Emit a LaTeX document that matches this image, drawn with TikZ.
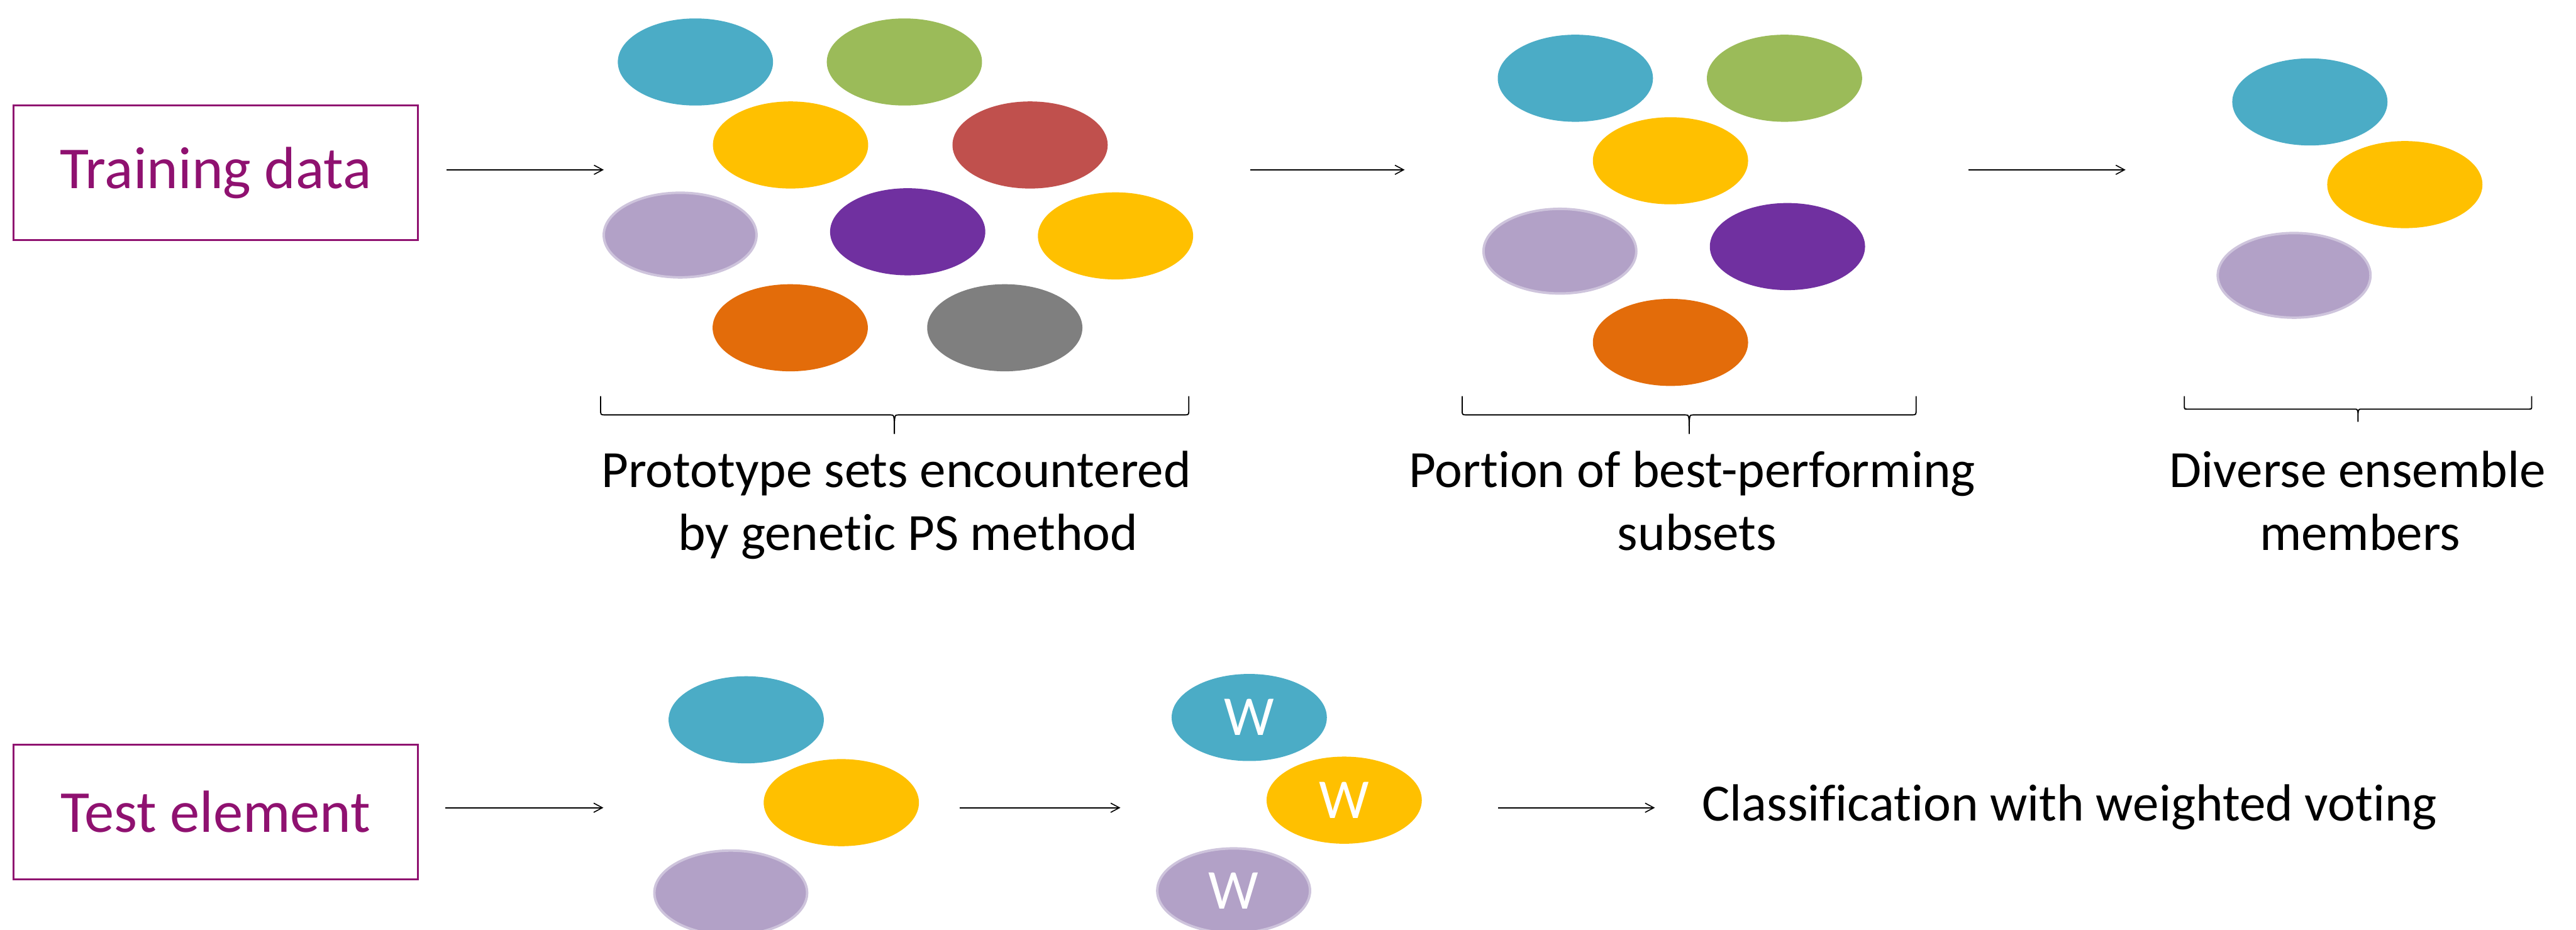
\documentclass[tikz,border=0pt]{standalone}
\usepackage{fontspec}
\setmainfont{Carlito}[Ligatures={NoCommon}]
\usetikzlibrary{shapes.geometric,arrows.meta}
\definecolor{plum}{RGB}{143,17,112}
\definecolor{blobcyan}{RGB}{75,172,198}
\definecolor{blobgreen}{RGB}{155,187,89}
\definecolor{blobyellow}{RGB}{255,192,0}
\definecolor{blobred}{RGB}{192,80,77}
\definecolor{bloblav}{RGB}{178,161,199}
\definecolor{lavring}{RGB}{206,196,220}
\definecolor{blobpurple}{RGB}{112,48,160}
\definecolor{bloborange}{RGB}{227,108,10}
\definecolor{blobgray}{RGB}{127,127,127}

\begin{document}
\begin{tikzpicture}[x=0.02cm,y=-0.02cm]
\tikzstyle{every node}+=[inner sep=0pt]
\tikzstyle{blob}=[ellipse,minimum width=1.89cm,minimum height=1.06cm]
\tikzstyle{lav}=[blob,fill=bloblav,draw=lavring,line width=0.85pt,minimum width=1.86cm,minimum height=1.03cm]
\tikzstyle{inbox}=[draw=plum,line width=0.75pt,text=plum,minimum width=4.926cm,minimum height=1.64cm,font=\fontsize{20.6}{25}\selectfont]
\tikzstyle{lbl}=[anchor=base,font=\fontsize{18.1}{22}\selectfont]
\tikzstyle{arr}=[line width=0.35pt,-{Straight Barb[length=3pt,width=3.2pt]}]
\tikzstyle{brc}=[line width=0.4pt]
\tikzstyle{wlbl}=[text=white,font=\fontsize{19.5}{23}\selectfont]
\useasboundingbox (0,0) rectangle (1568,565.7);

\node[inbox] (train) at (131.35,105) {Training data};
\node[inbox] (test) at (131.35,494) {Test element};

\node[blob,fill=blobcyan] (pc) at (423.3,37.7) {};
\node[blob,fill=blobgreen] (pg) at (550.5,37.7) {};
\node[blob,fill=blobyellow] (py) at (481.2,88.2) {};
\node[blob,fill=blobred] (pr) at (627,88.2) {};
\node[lav] (pl) at (414,143) {};
\node[blob,fill=blobpurple] (pp) at (552.5,141) {};
\node[blob,fill=blobyellow] (py2) at (679,143.5) {};
\node[blob,fill=bloborange] (po) at (481,199.4) {};
\node[blob,fill=blobgray] (pgr) at (611.6,199.4) {};

\node[blob,fill=blobcyan] (bc) at (958.9,47.6) {};
\node[blob,fill=blobgreen] (bg) at (1086.2,47.6) {};
\node[blob,fill=blobyellow] (by) at (1016.8,97.8) {};
\node[lav] (bl) at (949.5,152.8) {};
\node[blob,fill=blobpurple] (bp) at (1088,150) {};
\node[blob,fill=bloborange] (bo) at (1016.8,208.3) {};

\node[blob,fill=blobcyan] (dc) at (1406,62) {};
\node[blob,fill=blobyellow] (dy) at (1463.8,112.3) {};
\node[lav] (dl) at (1396.4,167.5) {};

\node[blob,fill=blobcyan] (tc) at (454.2,437.9) {};
\node[blob,fill=blobyellow] (ty) at (512.1,488.3) {};
\node[lav] (tl) at (444.8,543.2) {};

\node[blob,fill=blobcyan,wlbl] (wc) at (760.4,436.5) {W};
\node[blob,fill=blobyellow,wlbl] (wy) at (818.2,486.8) {W};
\node[lav,wlbl] (wl) at (750.9,541.9) {W};

\draw[brc] (365.6,241) -- (365.6,249.4) .. controls (365.6,252.4) .. (368.6,252.4) -- (542,252.4) .. controls (544.4,252.4) .. (544.4,264) .. controls (544.4,252.4) .. (546.8,252.4) -- (720.6,252.4) .. controls (723.6,252.4) .. (723.6,249.4) -- (723.6,241);
\draw[brc] (890,241) -- (890,249.4) .. controls (890,252.4) .. (893,252.4) -- (1025.8,252.4) .. controls (1028.2,252.4) .. (1028.2,264) .. controls (1028.2,252.4) .. (1030.6,252.4) -- (1163.3,252.4) .. controls (1166.3,252.4) .. (1166.3,249.4) -- (1166.3,241);
\draw[brc] (1329.6,241) -- (1329.6,246.9) .. controls (1329.6,248.9) .. (1331.6,248.9) -- (1433.5,248.9) .. controls (1435.3,248.9) .. (1435.3,256.6) .. controls (1435.3,248.9) .. (1437.1,248.9) -- (1539,248.9) .. controls (1541,248.9) .. (1541,246.9) -- (1541,241);

\node[lbl] (proto1) at (545.5,296.5) {Prototype sets encountered};
\node[lbl] (proto2) at (552.7,334.6) {by genetic PS method};
\node[lbl] (best1) at (1030,296.5) {Portion of best-performing};
\node[lbl] (best2) at (1033,334.6) {subsets};
\node[lbl] (div1) at (1435,296.5) {Diverse ensemble};
\node[lbl] (div2) at (1436.5,334.6) {members};
\node[lbl,anchor=base west] (vote) at (1035.7,499.4) {Classification with weighted voting};

\coordinate (a1s) at (271.7,103.3);
\coordinate (a1e) at (367.5,103.3);
\coordinate (a2s) at (761,103.3);
\coordinate (a2e) at (855,103.3);
\coordinate (a3s) at (1198,103.3);
\coordinate (a3e) at (1293.8,103.3);
\coordinate (b1s) at (271,491.4);
\coordinate (b1e) at (367.3,491.4);
\coordinate (b2s) at (584,491.4);
\coordinate (b2e) at (682,491.4);
\coordinate (b3s) at (912,491.4);
\coordinate (b3e) at (1007.3,491.4);
\draw[arr] (a1s) -- (a1e);
\draw[arr] (a2s) -- (a2e);
\draw[arr] (a3s) -- (a3e);
\draw[arr] (b1s) -- (b1e);
\draw[arr] (b2s) -- (b2e);
\draw[arr] (b3s) -- (b3e);
\end{tikzpicture}
\end{document}
